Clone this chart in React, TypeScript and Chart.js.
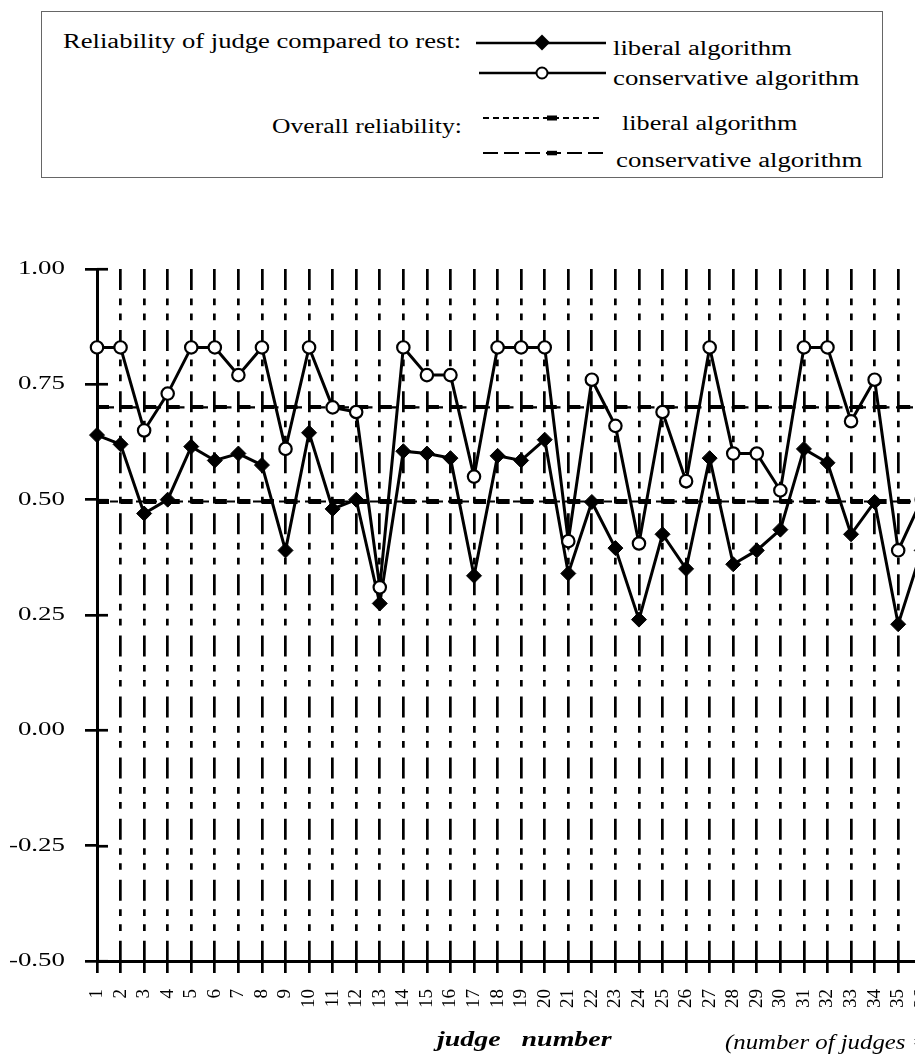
import React, { useEffect, useRef } from 'react';
import { Chart, registerables } from 'chart.js';

Chart.register(...registerables);

// ---------- data ----------
const judgeNumbers = [
  '1', '2', '3', '4', '5', '6', '7', '8', '9', '10',
  '11', '12', '13', '14', '15', '16', '17', '18', '19', '20',
  '21', '22', '23', '24', '25', '26', '27', '28', '29', '30',
  '31', '32', '33', '34', '35', '36', '37', '38', '39', '40',
];

// reliability of each judge compared to the rest
const liberalJudge = [
  0.64, 0.62, 0.47, 0.50, 0.615, 0.585, 0.60, 0.575, 0.39, 0.645,
  0.48, 0.50, 0.275, 0.605, 0.60, 0.59, 0.335, 0.595, 0.585, 0.63,
  0.34, 0.495, 0.395, 0.24, 0.425, 0.35, 0.59, 0.36, 0.39, 0.435,
  0.61, 0.58, 0.425, 0.495, 0.23, 0.39, null, null, null, null,
];
const conservativeJudge = [
  0.83, 0.83, 0.65, 0.73, 0.83, 0.83, 0.77, 0.83, 0.61, 0.83,
  0.70, 0.69, 0.31, 0.83, 0.77, 0.77, 0.55, 0.83, 0.83, 0.83,
  0.41, 0.76, 0.66, 0.405, 0.69, 0.54, 0.83, 0.60, 0.60, 0.52,
  0.83, 0.83, 0.67, 0.76, 0.39, 0.50, null, null, null, null,
];

// overall reliability
const overallLiberal = 0.496;
const overallConservative = 0.70;

const yTickLabels = ['-0.50', '-0.25', '0.00', '0.25', '0.50', '0.75', '1.00'];

const SERIF = '"Liberation Serif", "Times New Roman", Times, serif';

type TxtProps = {
  x: number;
  baseline: number;
  size?: number;
  sx?: number;
  weight?: string;
  italic?: boolean;
  children: string;
};

function Txt({ x, baseline, size = 20, sx = 1.33, weight = 'normal', italic = false, children }: TxtProps) {
  return (
    <span
      style={{
        position: 'absolute',
        left: x,
        top: baseline - 0.8375 * size,
        fontFamily: SERIF,
        fontSize: size,
        lineHeight: `${size}px`,
        fontWeight: weight as any,
        fontStyle: italic ? 'italic' : 'normal',
        whiteSpace: 'pre',
        color: '#000',
        transform: `scaleX(${sx})`,
        transformOrigin: '0 0',
      }}
    >
      {children}
    </span>
  );
}

export default function App() {
  const ref = useRef<HTMLCanvasElement>(null);

  useEffect(() => {
    const canvas = ref.current;
    if (!canvas) return;

    const makeMarker = (h: number) => {
      const c = document.createElement('canvas');
      c.width = 26;
      c.height = h;
      const g = c.getContext('2d')!;
      g.fillStyle = '#000';
      g.fillRect(13, 0, 12, h);
      return c;
    };
    const libMarker = makeMarker(5);
    const conMarker = makeMarker(4);

    const yLabelPlugin = {
      id: 'stretchedYLabels',
      afterDraw(chart: any) {
        const y = chart.scales.y;
        const ctx = chart.ctx;
        ctx.save();
        ctx.font = `19.5px ${SERIF}`;
        ctx.fillStyle = '#000';
        ctx.textAlign = 'right';
        ctx.textBaseline = 'middle';
        y.ticks.forEach((t: any, i: number) => {
          const py = y.getPixelForTick(i);
          ctx.save();
          ctx.translate(65, py);
          ctx.scale(1.38, 1);
          ctx.fillText(String(t.label), 0, 0);
          ctx.restore();
        });
        ctx.restore();
      },
    };

    const crossTicks = {
      id: 'crossTicks',
      beforeDatasetsDraw(chart: any) {
        const y = chart.scales.y;
        const ctx = chart.ctx;
        const left = chart.chartArea.left;
        ctx.save();
        ctx.strokeStyle = '#000';
        ctx.lineWidth = 2.7;
        y.ticks.forEach((_t: any, i: number) => {
          const py = Math.round(y.getPixelForTick(i)) + 0.25;
          ctx.beginPath();
          ctx.moveTo(left, py);
          ctx.lineTo(left + 11, py);
          ctx.stroke();
        });
        ctx.restore();
      },
    };

    const chart = new Chart(canvas, {
      type: 'line',
      data: {
        labels: judgeNumbers,
        datasets: [
          {
            label: 'conservative algorithm',
            data: conservativeJudge,
            borderColor: '#000',
            borderWidth: 3,
            tension: 0,
            pointStyle: 'circle',
            pointRadius: 6.2,
            pointBackgroundColor: '#fff',
            pointBorderColor: '#000',
            pointBorderWidth: 2.2,
            clip: false,
          },
          {
            label: 'liberal algorithm',
            data: liberalJudge,
            borderColor: '#000',
            borderWidth: 3,
            tension: 0,
            pointStyle: 'rectRot',
            pointRadius: 7.5,
            pointBackgroundColor: '#000',
            pointBorderColor: '#000',
            pointBorderWidth: 1,
            clip: false,
          },
          {
            label: 'overall conservative',
            data: judgeNumbers.map(() => overallConservative),
            borderColor: '#000',
            borderWidth: 2.2,
            borderDash: [17, 6.5],
            tension: 0,
            pointStyle: conMarker as any,
            pointRadius: 3,
            clip: false,
          },
          {
            label: 'overall liberal',
            data: judgeNumbers.map(() => overallLiberal),
            borderColor: '#000',
            borderWidth: 2.2,
            borderDash: [8, 5],
            tension: 0,
            pointStyle: libMarker as any,
            pointRadius: 3,
            clip: false,
          },
        ],
      },
      options: {
        responsive: false,
        animation: false,
        events: [],
        layout: { padding: { top: 269, right: 24, bottom: 0, left: 0 } },
        plugins: {
          legend: { display: false },
          tooltip: { enabled: false },
        },
        scales: {
          x: {
            type: 'category',
            offset: false,
            afterFit: (s: any) => {
              s.height = 98;
              s.paddingLeft = 0;
              s.paddingRight = 0;
            },
            grid: {
              display: true,
              drawOnChartArea: true,
              drawTicks: true,
              tickLength: 12,
              lineWidth: 2.7,
              tickWidth: 2.7,
              tickColor: '#000',
              color: (c: any) => (c.index === 0 ? 'rgba(0,0,0,0)' : '#000'),
            },
            border: {
              display: true,
              color: '#000',
              width: 3,
              dash: [21, 8.5, 6.7, 8.3, 6.7, 9.87],
            },
            ticks: {
              autoSkip: false,
              minRotation: 90,
              maxRotation: 90,
              padding: 16,
              color: '#000',
              font: { family: SERIF, size: 19 },
            },
          },
          y: {
            type: 'linear',
            min: -0.5,
            max: 1.0,
            afterFit: (s: any) => {
              s.width = 97;
              s.paddingTop = 0;
              s.paddingBottom = 0;
            },
            grid: {
              display: true,
              drawOnChartArea: false,
              drawTicks: true,
              tickLength: 12,
              lineWidth: 2.7,
              tickColor: '#000',
              color: '#000',
            },
            border: { display: true, color: '#000', width: 3 },
            ticks: {
              display: false,
              stepSize: 0.25,
              callback: (_v: any, i: number) => yTickLabels[i],
            },
          },
        },
      },
      plugins: [crossTicks, yLabelPlugin],
    } as any);

    return () => {
      chart.destroy();
    };
  }, []);

  return (
    <div
      style={{
        position: 'absolute',
        left: 0,
        top: 0,
        width: 915,
        height: 1059,
        overflow: 'hidden',
        background: '#fff',
      }}
    >
      <canvas
        ref={ref}
        width={1040}
        height={1059}
        style={{ position: 'absolute', left: 0, top: 0, width: 1040, height: 1059 }}
      />

      {/* legend box */}
      <div
        style={{
          position: 'absolute',
          left: 41,
          top: 11,
          width: 842,
          height: 167,
          border: '1.5px solid #666',
          boxSizing: 'border-box',
          background: '#fff',
        }}
      />
      <svg
        width={915}
        height={190}
        style={{ position: 'absolute', left: 0, top: 0 }}
      >
        <line x1={476} x2={606} y1={43} y2={43} stroke="#000" strokeWidth={2.5} />
        <polygon points="542,34.5 550,42.5 542,50.5 534,42.5" fill="#000" />
        <line x1={479} x2={606} y1={73} y2={73} stroke="#000" strokeWidth={2.5} />
        <circle cx={542} cy={73} r={5.5} fill="#fff" stroke="#000" strokeWidth={2} />
        <line x1={483} x2={603} y1={118} y2={118} stroke="#000" strokeWidth={2} strokeDasharray="6 4" />
        <rect x={547} y={115.5} width={10} height={5} fill="#000" />
        <line x1={483} x2={603} y1={153} y2={153} stroke="#000" strokeWidth={2} strokeDasharray="15 6" />
        <rect x={547} y={150.8} width={10} height={4.5} fill="#000" />
      </svg>
      <Txt x={63} baseline={48} sx={1.33}>Reliability of judge compared to rest:</Txt>
      <Txt x={613} baseline={55} sx={1.336}>liberal algorithm</Txt>
      <Txt x={613} baseline={85} sx={1.34}>conservative algorithm</Txt>
      <Txt x={272} baseline={133} sx={1.28}>Overall reliability:</Txt>
      <Txt x={622} baseline={130} sx={1.31}>liberal algorithm</Txt>
      <Txt x={616} baseline={167} sx={1.34}>conservative algorithm</Txt>

      {/* axis title and note */}
      <Txt x={437} baseline={1047} size={21} sx={1.33} weight="bold" italic>
        {'judge   number'}
      </Txt>
      <Txt x={725} baseline={1049} size={20} sx={1.24} italic>
        {'(number of judges = 40)'}
      </Txt>
    </div>
  );
}
